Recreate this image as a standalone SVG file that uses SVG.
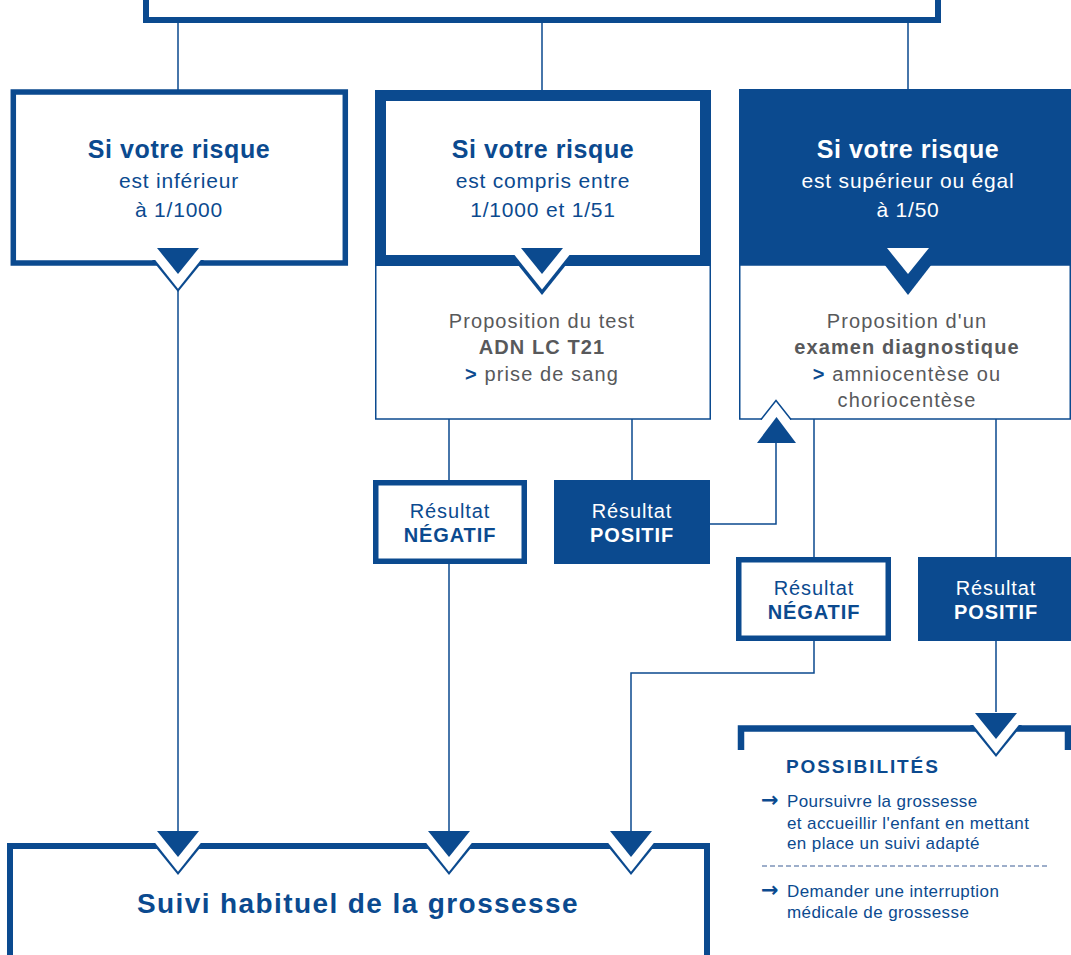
<svg xmlns="http://www.w3.org/2000/svg" width="1071" height="955" viewBox="0 0 1071 955">
<style>
text{font-family:"Liberation Sans",Arial,Helvetica,sans-serif}
.ln{fill:none;stroke:#0b4a8f;stroke-width:1.5}
.bx{fill:#fff;stroke:#0b4a8f}
.dk{fill:#0b4a8f}
.hd{font-size:25px;font-weight:bold;fill:#0b4a8f;letter-spacing:0.6px;text-anchor:middle}
.sb{font-size:21px;fill:#0b4a8f;letter-spacing:0.8px;text-anchor:middle}
.gr{font-size:20px;fill:#58595b;letter-spacing:1.1px;text-anchor:middle}
.bd{font-weight:bold}
.gt{fill:#0b4a8f;font-weight:bold}
.rs{font-size:20px;fill:#0b4a8f;letter-spacing:0.9px;text-anchor:middle}
.ps{font-size:19px;font-weight:bold;fill:#0b4a8f;letter-spacing:1.9px}
.li{font-size:17px;fill:#0b4a8f;letter-spacing:0.4px}
.ar{font-family:"DejaVu Sans",sans-serif;font-size:21px;font-weight:bold;letter-spacing:0}
.big{font-size:28px;font-weight:bold;fill:#0b4a8f;letter-spacing:1.4px;text-anchor:middle}
.wt{fill:#fff}
</style>
<defs>
<g id="nt">
<polygon points="-26,-3 26,-3 0,29" fill="#0b4a8f"/>
<polygon points="-23.6,-4 23.6,-4 0,25.8" fill="#fff"/>
<polygon points="-21,-15 21,-15 0,11" fill="#0b4a8f"/>
</g>
</defs>
<rect width="1071" height="955" fill="#fff"/>

<g id="connectors">
<path class="ln" d="M178,23V90 M542,23V90 M908,23V89"/>
<path class="ln" d="M178,290V832"/>
<path class="ln" d="M449,419V480 M632,419V480 M449,564V832"/>
<path class="ln" d="M710,524H776V443"/>
<path class="ln" d="M814,419V557 M814,641V673H631V832"/>
<path class="ln" d="M996,419V557 M996,641V712"/>
</g>

<g id="top-box">
<rect class="bx" x="146" y="-10" width="792" height="30" stroke-width="6"/>
</g>

<g id="risk-low">
<rect class="bx" x="13.3" y="92" width="332" height="171" stroke-width="5.5"/>
<text class="hd" x="179" y="158">Si votre risque</text>
<text class="sb" x="179" y="188">est inférieur</text>
<text class="sb" x="179" y="217">à 1/1000</text>
<use href="#nt" x="178" y="263"/>
</g>

<g id="risk-mid">
<rect class="bx" x="375.75" y="262" width="334.5" height="157" stroke-width="1.5"/>
<rect class="bx" x="380.5" y="95.5" width="325" height="165" stroke-width="11"/>
<text class="hd" x="543" y="158">Si votre risque</text>
<text class="sb" x="543" y="188">est compris entre</text>
<text class="sb" x="543" y="217">1/1000 et 1/51</text>
<polygon points="510,255 574,255 542,295" fill="#0b4a8f"/>
<polygon points="513.7,254 570.3,254 542,289.4" fill="#fff"/>
<polygon points="521,248 563,248 542,274" fill="#0b4a8f"/>
<text class="gr" x="542" y="328">Proposition du test</text>
<text class="gr bd" x="542" y="354">ADN LC T21</text>
<text class="gr" x="542" y="381"><tspan class="gt">&gt;</tspan> prise de sang</text>
</g>

<g id="risk-high">
<rect class="bx" x="739.75" y="265" width="330.5" height="154" stroke-width="1.5"/>
<rect class="dk" x="739" y="89" width="332" height="176"/>
<polygon points="884,264 932,264 908,295" fill="#0b4a8f"/>
<polygon points="887,248 929,248 908,274" fill="#fff"/>
<text class="hd wt" x="908" y="158">Si votre risque</text>
<text class="sb wt" x="908" y="188">est supérieur ou égal</text>
<text class="sb wt" x="908" y="217">à 1/50</text>
<text class="gr" x="907" y="328">Proposition d'un</text>
<text class="gr bd" x="907" y="354">examen diagnostique</text>
<text class="gr" x="907" y="381"><tspan class="gt">&gt;</tspan> amniocentèse ou</text>
<text class="gr" x="907" y="407">choriocentèse</text>
<rect x="762" y="417" width="28" height="4" fill="#fff"/>
<polyline class="ln" points="761,419.5 776,400.5 791,419.5"/>
<polygon points="757,443 796,443 776.5,417" fill="#0b4a8f"/>
</g>

<g id="neg-1">
<rect class="bx" x="375.75" y="482.75" width="148.5" height="78.5" stroke-width="5.5"/>
<text class="rs" x="450" y="518">Résultat</text>
<text class="rs bd" x="450" y="542">NÉGATIF</text>
</g>

<g id="pos-1">
<rect class="dk" x="554" y="480" width="156" height="84"/>
<text class="rs wt" x="632" y="518">Résultat</text>
<text class="rs wt bd" x="632" y="542">POSITIF</text>
</g>

<g id="neg-2">
<rect class="bx" x="738.75" y="559.75" width="149.5" height="78.5" stroke-width="5.5"/>
<text class="rs" x="814" y="595">Résultat</text>
<text class="rs bd" x="814" y="619">NÉGATIF</text>
</g>

<g id="pos-2">
<rect class="dk" x="918" y="557" width="156" height="84"/>
<text class="rs wt" x="996" y="595">Résultat</text>
<text class="rs wt bd" x="996" y="619">POSITIF</text>
</g>

<g id="possibilites">
<path d="M741,750V728.5H1068V750" fill="none" stroke="#0b4a8f" stroke-width="6.5"/>
<use href="#nt" x="996" y="728"/>
<text class="ps" x="786" y="773">POSSIBILITÉS</text>
<text class="li" x="761" y="807"><tspan class="ar">→</tspan><tspan x="787">Poursuivre la grossesse</tspan></text>
<text class="li" x="787" y="829">et accueillir l'enfant en mettant</text>
<text class="li" x="787" y="849">en place un suivi adapté</text>
<line x1="762" y1="866" x2="1047" y2="866" stroke="#3d5f95" stroke-width="1.2" stroke-dasharray="5,3"/>
<text class="li" x="761" y="897"><tspan class="ar">→</tspan><tspan x="787">Demander une interruption</tspan></text>
<text class="li" x="787" y="918">médicale de grossesse</text>
</g>

<g id="suivi">
<rect class="bx" x="10" y="846" width="697" height="150" stroke-width="6"/>
<use href="#nt" x="178" y="846"/>
<use href="#nt" x="449" y="846"/>
<use href="#nt" x="631" y="846"/>
<text class="big" x="358" y="913">Suivi habituel de la grossesse</text>
</g>
</svg>
